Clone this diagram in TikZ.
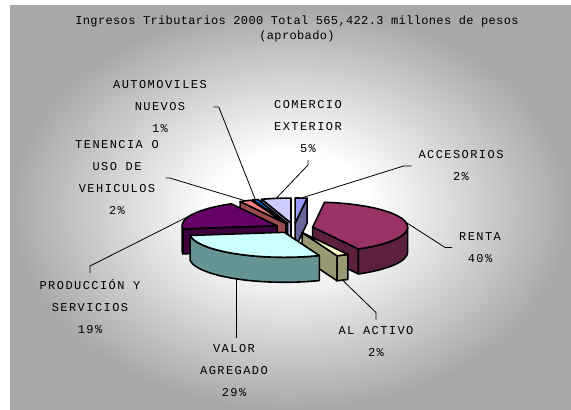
\documentclass[tikz,border=0pt]{standalone}
\usepackage{fontspec}
\usetikzlibrary{calc}
\newfontfamily\chartfont[LetterSpace=12]{Liberation Mono}
\newfontfamily\titlefont[LetterSpace=3]{Liberation Mono}
\definecolor{panelgray}{RGB}{168,168,168}
\definecolor{acctop}{HTML}{9999FF}\definecolor{accside}{HTML}{666699}
\definecolor{rentop}{HTML}{993366}\definecolor{renside}{HTML}{5C1F3D}
\definecolor{acttop}{HTML}{FFFFCC}\definecolor{actside}{HTML}{999973}
\definecolor{valtop}{HTML}{CCFFFF}\definecolor{valside}{HTML}{669494}
\definecolor{protop}{HTML}{660066}\definecolor{proside}{HTML}{3D003D}
\definecolor{tentop}{HTML}{FF8080}\definecolor{tenside}{HTML}{994D4D}
\definecolor{auttop}{HTML}{0066CC}\definecolor{autside}{HTML}{003D7A}
\definecolor{comtop}{HTML}{CCCCFF}\definecolor{comside}{HTML}{ABABE0}
\pgfdeclareradialshading{panelglow}{\pgfpoint{0bp}{0bp}}{color(0bp)=(white); color(7bp)=(white); color(25bp)=(panelgray); color(50bp)=(panelgray)}
\newcommand{\pieslice}[5]{%
  \pgfmathsetmacro{\slA}{#1-90}%
  \pgfmathsetmacro{\slB}{#2-90}%
  \pgfmathsetmacro{\slM}{(#1+#2)/2-90}%
  \pgfmathsetmacro{\slF}{max(#1,90)-90}%
  \pgfmathsetmacro{\slG}{min(#2,270)-90}%
  \coordinate (#5) at ($(pc)+(\slM:19 and 5)$);
  \coordinate (#5-rim) at ($(#5)+(\slM:95 and 25)$);
  \coordinate (#5-low) at ($(#5-rim)+(0,25)$);
  \ifdim #1pt>179pt
    \filldraw[facet,fill=#4] (#5) -- ($(#5)+(\slA:95 and 25)$) -- ++(0,25) -- ($(#5)+(0,25)$) -- cycle;
  \fi
  \ifdim #2pt<179pt
    \filldraw[facet,fill=#4] (#5) -- ($(#5)+(\slB:95 and 25)$) -- ++(0,25) -- ($(#5)+(0,25)$) -- cycle;
  \fi
  \ifdim \slF pt<\slG pt
    \filldraw[facet,fill=#4] ($(#5)+(\slF:95 and 25)$) arc[start angle=\slF, end angle=\slG, x radius=95, y radius=25]
      -- ++(0,25) arc[start angle=\slG, end angle=\slF, x radius=95, y radius=25] -- cycle;
  \fi
  \filldraw[facet,fill=#3] (#5) -- ($(#5)+(\slA:95 and 25)$) arc[start angle=\slA, end angle=\slB, x radius=95, y radius=25] -- cycle;
}

\begin{document}
\begin{tikzpicture}[x=0.75pt, y=-0.75pt,
    facet/.style={draw=black, line width=1.2pt, line join=round},
    lbl/.style={align=center, font=\chartfont\fontsize{9}{16.5}\selectfont, inner sep=5pt},
    leader/.style={draw=black, line width=0.6pt}]
    \useasboundingbox (0,0) rectangle (571,410);
    \fill[white] (0,0) rectangle (571,410);
    \shade[shading=panelglow] (10,6) rectangle (571,410);

    \node[align=center, font=\titlefont\fontsize{9}{11.6}\selectfont] (title) at (297,28.7)
        {Ingresos Tributarios 2000 Total 565,422.3 millones de pesos\\(aprobado)};

    \coordinate (pc) at (294,228);
    \pieslice{0}{7.2}{acctop}{accside}{acc}
    \pieslice{342}{360}{comtop}{comside}{com}
    \pieslice{338.4}{342}{auttop}{autside}{aut}
    \pieslice{331.2}{338.4}{tentop}{tenside}{ten}
    \pieslice{7.2}{151.2}{rentop}{renside}{ren}
    \pieslice{262.8}{331.2}{protop}{proside}{pro}
    \pieslice{151.2}{158.4}{acttop}{actside}{act}
    \pieslice{158.4}{262.8}{valtop}{valside}{val}

    \node[lbl] (automoviles) at (160,107) {AUTOMOVILES\\NUEVOS\\1\%};
    \node[lbl] (tenencia) at (117,178) {TENENCIA O\\USO DE\\VEHICULOS\\2\%};
    \node[lbl] (comercio) at (308,127) {COMERCIO\\EXTERIOR\\5\%};
    \node[lbl] (accesorios) at (461,166) {ACCESORIOS\\2\%};
    \node[lbl] (renta) at (480,247.5) {RENTA\\40\%};
    \node[lbl] (activo) at (376,341.5) {AL ACTIVO\\2\%};
    \node[lbl] (valor) at (234,371) {VALOR\\AGREGADO\\29\%};
    \node[lbl] (produccion) at (90,307) {PRODUCCIÓN Y\\SERVICIOS\\19\%};

    \draw[leader] (automoviles.east) -- ++(5,0) -- (aut-rim);
    \draw[leader] (tenencia.east) -- ++(4,0) -- (ten-rim);
    \draw[leader] (comercio.south) -- ++(0,5) -- (com-rim);
    \draw[leader] (accesorios.west) -- ++(-8,0) -- (acc-rim);
    \draw[leader] (renta.west) -- ++(-7,0) -- (ren-rim);
    \draw[leader] (activo.north) -- ++(0,-7) -- (act-low);
    \draw[leader] (valor.north -| val-low) -- (val-low);
    \draw[leader] (produccion.north) -- ++(0,-7) -- (pro-rim);
\end{tikzpicture}
\end{document}
